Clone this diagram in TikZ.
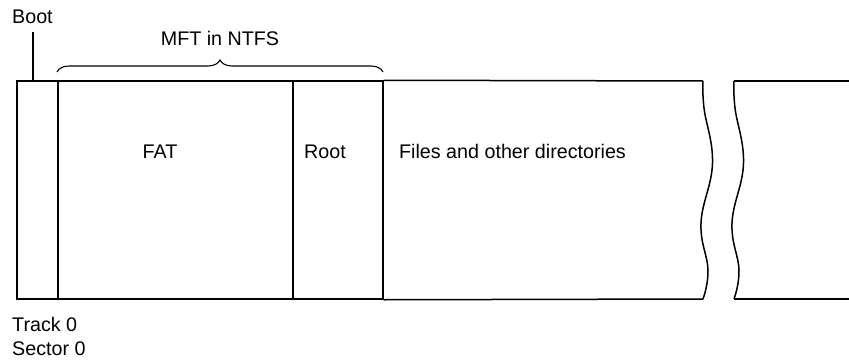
\documentclass[tikz,border=0pt]{standalone}
\usepackage{fontspec}
\setmainfont{Liberation Sans}
\usetikzlibrary{decorations.pathreplacing}
\begin{document}
\begin{tikzpicture}[x=1pt,y=1pt,
  cell/.style={draw, line width=1.5pt, inner sep=0pt, minimum height=218pt},
  lbl/.style={inner sep=0pt, font=\fontsize{19.7}{24}\selectfont},
  edge/.style={line width=1.5pt},
  thin/.style={line width=1.1pt}]
\useasboundingbox (0,0) rectangle (849,360);
% cells
\node[cell, minimum width=41pt] (boot) at (37.5,170) {};
\node[cell, minimum width=235pt] (fat) at (175.5,170) {};
\node[cell, minimum width=90pt] (root) at (338,170) {};
% labels in cells
\node[lbl, anchor=base] (fatlbl) at (160,202) {FAT};
\node[lbl, anchor=base] (rootlbl) at (325,202) {Root};
\node[lbl, anchor=base west] (fileslbl) at (399,202) {Files and other directories};
% files region with break
\coordinate (w1t) at (703,279);
\coordinate (w1b) at (703,61);
\coordinate (w2t) at (734,279);
\coordinate (w2b) at (734,61);
\coordinate (rt) at (849,279);
\coordinate (rb) at (849,61);
\draw[edge] (root.north east) -- (w1t);
\draw[edge] (root.south east) -- (w1b);
\draw[edge] plot[smooth, tension=0.7] coordinates {(703,279) (704,252) (712.5,197) (701,137) (708,90) (703,61)};
\draw[edge] plot[smooth, tension=0.7] coordinates {(734,279) (735,252) (743.5,197) (732,137) (739,90) (734,61)};
\draw[edge] (w2t) -- (rt);
\draw[edge] (w2b) -- (rb);
% boot label
\node[lbl, anchor=base west] (bootlbl) at (12,337) {Boot};
\coordinate (bl1) at (33,328);
\coordinate (bl2) at (33,279);
\draw[thin] (bl1) -- (bl2);
% brace
\coordinate (br1) at (57,288);
\coordinate (br2) at (383,288);
\draw[thin, decorate, decoration={brace, amplitude=12pt}] (br1) -- (br2);
\node[lbl, anchor=base] (mftlbl) at (220,315) {MFT in NTFS};
% track/sector
\node[lbl, anchor=base west] (track) at (12,29) {Track 0};
\node[lbl, anchor=base west] (sector) at (12,5) {Sector 0};
\end{tikzpicture}
\end{document}
